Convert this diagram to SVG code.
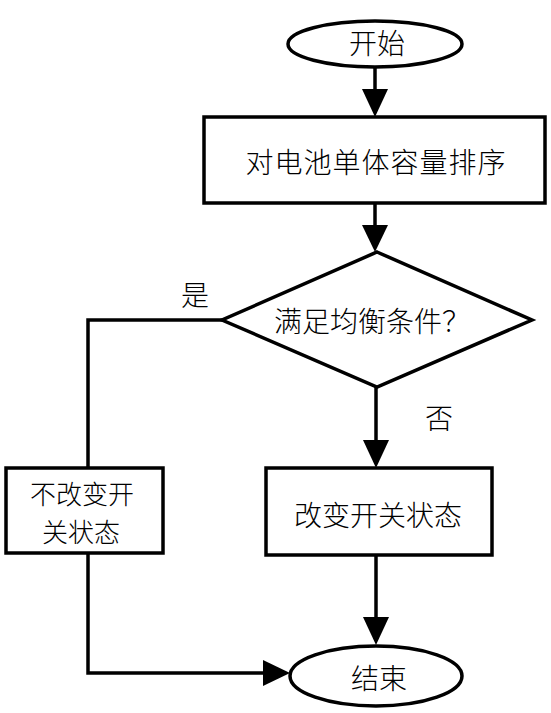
<svg xmlns="http://www.w3.org/2000/svg" width="551" height="713" viewBox="0 0 551 713">
<style>
.shape{fill:#fff;stroke:#000;stroke-width:3.5}
.line{fill:none;stroke:#000;stroke-width:3.5}
.head{fill:#000;stroke:none}
text{font-family:"Noto Sans CJK SC","Noto Sans CJK JP",sans-serif;font-size:28px;fill:#000;text-anchor:middle;dominant-baseline:central;font-weight:300}
.two{font-size:26px}
</style>
<rect width="551" height="713" fill="#fff"/>
<g id="connectors">
<line class="line" x1="375" y1="67" x2="375" y2="92"/>
<polygon class="head" points="362,89 388,89 375,117"/>
<line class="line" x1="375" y1="203" x2="375" y2="228"/>
<polygon class="head" points="362,225 388,225 375,252"/>
<line class="line" x1="376" y1="387" x2="376" y2="443"/>
<polygon class="head" points="363,440 389,440 376,468"/>
<line class="line" x1="376" y1="555" x2="376" y2="620"/>
<polygon class="head" points="363,617 389,617 376,645"/>
<polyline class="line" points="222,320 88,320 88,468"/>
<polyline class="line" points="88,553 88,673 266,673"/>
<polygon class="head" points="263,660 263,686 290,673"/>
</g>
<g id="start">
<ellipse class="shape" cx="375" cy="44" rx="87" ry="23"/>
<text x="377" y="42">开始</text>
</g>
<g id="sort">
<rect class="shape" x="204" y="117" width="341" height="86"/>
<text x="376" y="161" style="letter-spacing:1px">对电池单体容量排序</text>
</g>
<g id="decision">
<polygon class="shape" points="377,252 532,320 377,387 222,320"/>
<text x="372" y="320">满足均衡条件？</text>
</g>
<g id="yes-label"><text x="195" y="294">是</text></g>
<g id="no-label"><text x="439" y="417">否</text></g>
<g id="nochange">
<rect class="shape" x="6" y="468" width="157" height="85"/>
<text class="two" x="82" y="492">不改变开</text>
<text class="two" x="81" y="530">关状态</text>
</g>
<g id="change">
<rect class="shape" x="266" y="468" width="226" height="87"/>
<text x="378" y="514">改变开关状态</text>
</g>
<g id="end">
<ellipse class="shape" cx="376" cy="676" rx="86" ry="30"/>
<text x="379" y="677">结束</text>
</g>
</svg>
